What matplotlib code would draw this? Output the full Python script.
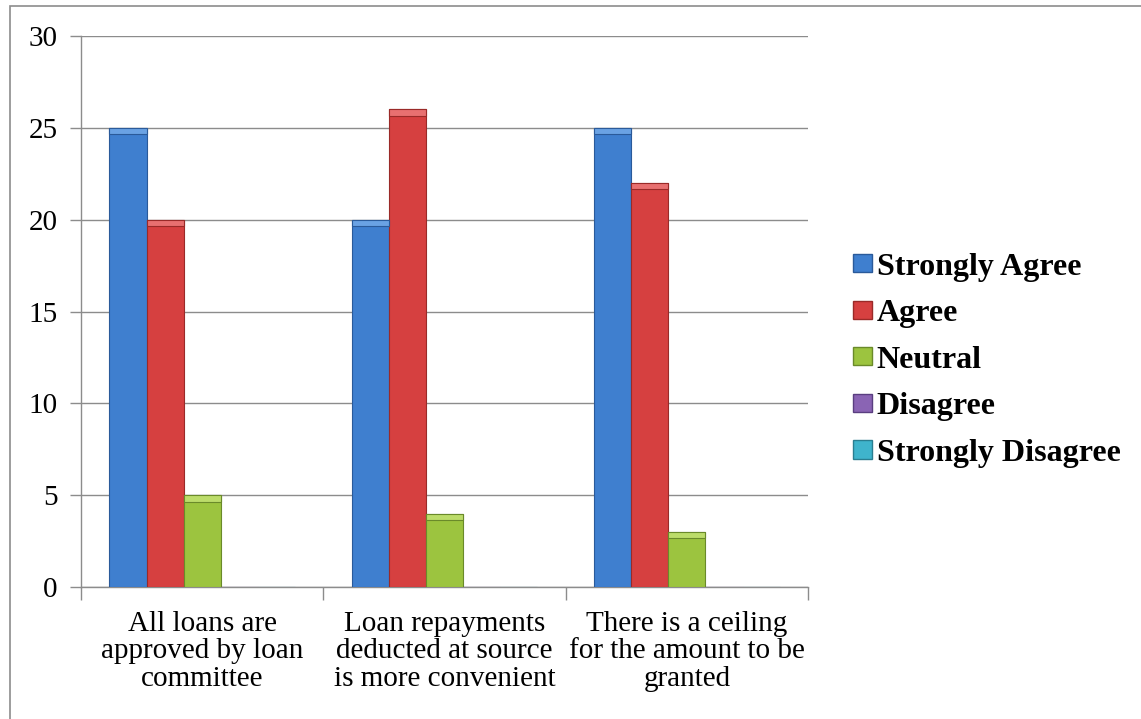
import matplotlib.pyplot as plt
import matplotlib.patches as mpatches
import numpy as np

categories = ["All loans are\napproved by loan\ncommittee",
              "Loan repayments\ndeducted at source\nis more convenient",
              "There is a ceiling\nfor the amount to be\ngranted"]
series_names = ["Strongly Agree", "Agree", "Neutral", "Disagree", "Strongly Disagree"]
strongly_agree = [25, 20, 25]
agree = [20, 26, 22]
neutral = [5, 4, 3]
disagree = [0, 0, 0]
strongly_disagree = [0, 0, 0]
values = [strongly_agree, agree, neutral, disagree, strongly_disagree]
colors = ["#3f7fcf", "#d64040", "#9cc43f", "#8a64b4", "#3fb4cc"]
tops = ["#6aa2e4", "#e87070", "#bcdc6a", "#a88ad0", "#6cd0e2"]
edges = ["#2a5a9a", "#9a2a28", "#6a8a2a", "#5a3e80", "#2a7e90"]

plt.rcParams['font.family'] = ['Liberation Serif', 'DejaVu Serif']

fig = plt.figure(figsize=(11.41, 7.19), dpi=100)
ax = fig.add_axes([0.0710, 0.1836, 0.6372, 0.7663])

x = np.arange(len(categories))
w = 0.153
start = -2 * w
bevel = 0.35
for i, (vals, c, tc, ec) in enumerate(zip(values, colors, tops, edges)):
    pos = x + start + i * w
    vals = np.array(vals, dtype=float)
    ax.bar(pos, vals, width=w, color=c, edgecolor=ec, linewidth=0.8, zorder=3)
    shown = vals > 0
    ax.bar(pos[shown], np.full(shown.sum(), bevel), bottom=vals[shown] - bevel,
           width=w, color=tc, edgecolor=ec, linewidth=0.8, zorder=4)

ax.set_xlim(-0.5, 2.5)
ax.set_ylim(0, 30)
ax.set_yticks(range(0, 31, 5))
ax.yaxis.grid(True, color="#8c8c8c", linewidth=1.0, zorder=0)
ax.set_xticks(x)
ax.set_xticklabels(categories, fontsize=21, linespacing=1.08)
ax.set_xticks([-0.5, 0.5, 1.5, 2.5], minor=True)
ax.tick_params(axis='x', which='major', length=0, pad=17)
ax.tick_params(axis='x', which='minor', length=9, color="#8c8c8c", width=1.0)
ax.tick_params(axis='y', length=8, color="#8c8c8c", width=1.0, labelsize=21, pad=9)
for s in ['top', 'right']:
    ax.spines[s].set_visible(False)
for s in ['left', 'bottom']:
    ax.spines[s].set_color("#8c8c8c")
    ax.spines[s].set_linewidth(1.0)

handles = [mpatches.Patch(facecolor=c, edgecolor=ec, label=n)
           for c, ec, n in zip(colors, edges, series_names)]
fig.legend(handles=handles, loc='center left', bbox_to_anchor=(0.722, 0.499),
           frameon=False, prop={'weight': 'bold', 'size': 23},
           handlelength=0.6, handleheight=0.5, handletextpad=0.15,
           labelspacing=0.55)

# outer chart border
fig.add_artist(mpatches.Rectangle((10 / 1141, -0.05), 1.2, 1 - 6 / 719 + 0.05,
                                  transform=fig.transFigure, fill=False,
                                  edgecolor="#8c8c8c", linewidth=1.2))

fig.savefig("out.png", dpi=100)
